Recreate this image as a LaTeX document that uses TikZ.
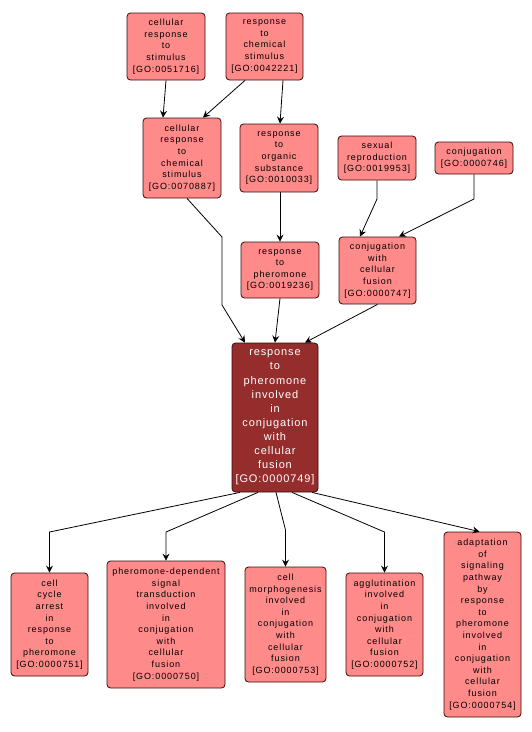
\documentclass[tikz,border=0pt]{standalone}
\usepackage{fontspec}
\usetikzlibrary{arrows.meta}
\newfontfamily\gofont[LetterSpace=10]{Liberation Sans}
\newfontfamily\mainfont[LetterSpace=8]{Liberation Sans}
\definecolor{gopink}{HTML}{FF8A8A}
\definecolor{godark}{HTML}{952D2D}
\definecolor{goedge}{HTML}{3A0A0A}
\tikzset{
  gobox/.style={draw=goedge, line width=0.8pt, fill=gopink, rounded corners=3.5pt,
    inner sep=0pt, align=center, font=\gofont\fontsize{9}{11.6}\selectfont, text=black},
  gomain/.style={gobox, fill=godark, text=white, font=\mainfont\fontsize{11}{14.1}\selectfont},
  goarrow/.style={draw=black, line width=0.8pt, -{Stealth[length=7pt,width=7pt,inset=2.5pt]}}
}
\begin{document}
\begin{tikzpicture}[x=1pt,y=-1pt]
\useasboundingbox (0,0) rectangle (531,732);
\node[gobox, minimum width=78pt, minimum height=67pt] (a) at (166,46.5) {cellular\\response\\to\\stimulus\\{[GO:0051716]}};
\node[gobox, minimum width=77pt, minimum height=67pt] (b) at (264.5,46.5) {response\\to\\chemical\\stimulus\\{[GO:0042221]}};
\node[gobox, minimum width=78pt, minimum height=80pt] (c) at (182,158) {cellular\\response\\to\\chemical\\stimulus\\{[GO:0070887]}};
\node[gobox, minimum width=78pt, minimum height=68pt] (d) at (279,158) {response\\to\\organic\\substance\\{[GO:0010033]}};
\node[gobox, minimum width=78pt, minimum height=44pt] (e) at (377,158) {sexual\\reproduction\\{[GO:0019953]}};
\node[gobox, minimum width=78pt, minimum height=32pt] (f) at (474,158) {conjugation\\{[GO:0000746]}};
\node[gobox, minimum width=78pt, minimum height=56pt] (g) at (280,270) {response\\to\\pheromone\\{[GO:0019236]}};
\node[gobox, minimum width=77pt, minimum height=67pt] (h) at (377.5,270.5) {conjugation\\with\\cellular\\fusion\\{[GO:0000747]}};
\node[gomain, minimum width=86pt, minimum height=149pt] (m) at (275,417.5) {response\\to\\pheromone\\involved\\in\\conjugation\\with\\cellular\\fusion\\{[GO:0000749]}};
\node[gobox, minimum width=77pt, minimum height=103pt] (n1) at (49.5,624.5) {cell\\cycle\\arrest\\in\\response\\to\\pheromone\\{[GO:0000751]}};
\node[gobox, minimum width=118pt, minimum height=127pt] (n2) at (166,624.5) {pheromone-dependent\\signal\\transduction\\involved\\in\\conjugation\\with\\cellular\\fusion\\{[GO:0000750]}};
\node[gobox, minimum width=81pt, minimum height=115pt] (n3) at (285.5,624.5) {cell\\morphogenesis\\involved\\in\\conjugation\\with\\cellular\\fusion\\{[GO:0000753]}};
\node[gobox, minimum width=77pt, minimum height=103pt] (n4) at (384.5,624.5) {agglutination\\involved\\in\\conjugation\\with\\cellular\\fusion\\{[GO:0000752]}};
\node[gobox, minimum width=77pt, minimum height=185pt] (n5) at (482.5,624.5) {adaptation\\of\\signaling\\pathway\\by\\response\\to\\pheromone\\involved\\in\\conjugation\\with\\cellular\\fusion\\{[GO:0000754]}};
% edges
\draw[goarrow] (a.south) -- ([xshift=-19pt]c.north);
\draw[goarrow] ([xshift=-19.5pt]b.south) -- ([xshift=21pt]c.north);
\draw[goarrow] ([xshift=18.5pt]b.south) -- ([xshift=1pt]d.north);
\draw[goarrow] ([xshift=5pt]c.south) -- (222,237) -- (222,305) -- ([xshift=-30pt]m.north);
\draw[goarrow] ([xshift=1pt]d.south) -- (g.north);
\draw[goarrow] (e.south) -- (377,199) -- ([xshift=-17.5pt]h.north);
\draw[goarrow] (f.south) -- (474,199) -- ([xshift=21.5pt]h.north);
\draw[goarrow] (g.south) -- (m.north);
\draw[goarrow] (h.south) -- ([xshift=30pt]m.north);
\draw[goarrow] ([xshift=-35pt]m.south) -- (49.5,532) -- (n1.north);
\draw[goarrow] ([xshift=-17pt]m.south) -- (166,532) -- (n2.north);
\draw[goarrow] ([xshift=1pt]m.south) -- (285.5,530) -- (n3.north);
\draw[goarrow] ([xshift=17pt]m.south) -- (384.5,532) -- (n4.north);
\draw[goarrow] ([xshift=37pt]m.south) -- ([xshift=-3pt]n5.north);
\end{tikzpicture}
\end{document}
